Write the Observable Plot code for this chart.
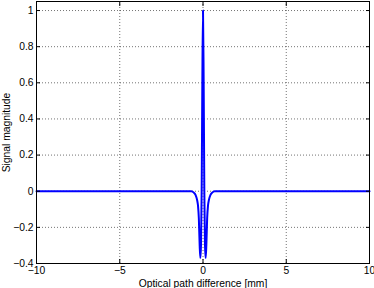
<!DOCTYPE html>
<html><head><meta charset="utf-8">
<script src="https://cdn.jsdelivr.net/npm/d3@7"></script>
<script src="https://cdn.jsdelivr.net/npm/@observablehq/plot@0.6"></script>
<style>body{margin:0;background:#fff}</style>
</head><body><div id="chart"></div>
<script>
const opd = [-10, -0.7, -0.55, -0.45, -0.35, -0.3, -0.25, -0.2, -0.16, -0.12, -0.08, -0.04, 0,
             0.04, 0.08, 0.12, 0.16, 0.2, 0.25, 0.3, 0.35, 0.45, 0.55, 0.7, 10];
const signal = [0, 0, -0.008, -0.02, -0.05, -0.08, -0.15, -0.3, -0.37, -0.3, 0.0, 0.6, 1,
                0.6, 0.0, -0.3, -0.37, -0.3, -0.15, -0.08, -0.05, -0.02, -0.008, 0, 0];
const xTicks = [-10, -5, 0, 5, 10];
const yTicks = [-0.4, -0.2, 0, 0.2, 0.4, 0.6, 0.8, 1];
const xGrid = [-5, 0, 5];
const yGrid = [-0.2, 0, 0.2, 0.4, 0.6, 0.8, 1];

const data = opd.map((x, i) => ({x, y: signal[i]}));
const fmt = d3.format("~g");

const chart = Plot.plot({
  width: 374, height: 288,
  marginLeft: 36, marginRight: 5, marginTop: 1, marginBottom: 25,
  style: {fontFamily: "'Liberation Sans', Arial, sans-serif", fontSize: "10.3px", background: "#fff", color: "#000"},
  x: {domain: [-10, 10]},
  y: {domain: [-0.4, 1.05]},
  marks: [
    Plot.gridX(xGrid, {stroke: "#000", strokeOpacity: 0.55, strokeDasharray: "1,2"}),
    Plot.gridY(yGrid, {stroke: "#000", strokeOpacity: 0.55, strokeDasharray: "1,2"}),
    Plot.line(data, {x: "x", y: "y", stroke: "#0000ff", strokeWidth: 2, curve: "monotone-x"}),
    Plot.frame({stroke: "#000", strokeWidth: 1}),
    Plot.axisX(xTicks, {anchor: "bottom", tickSize: -4, tickFormat: () => "", label: null}),
    Plot.axisX(xTicks, {anchor: "top", tickSize: -4, tickFormat: () => "", label: null}),
    Plot.axisY(yTicks, {anchor: "left", tickSize: -4, tickFormat: () => "", label: null}),
    Plot.axisY(yTicks, {anchor: "right", tickSize: -4, tickFormat: () => "", label: null}),
    Plot.axisX(xTicks, {anchor: "bottom", tickSize: 0, tickPadding: 3, tickFormat: fmt,
      label: "Optical path difference [mm]", labelAnchor: "center", labelArrow: "none", labelOffset: 23}),
    Plot.axisY(yTicks, {anchor: "left", tickSize: 0, tickPadding: 3, tickFormat: fmt,
      label: "Signal magnitude", labelAnchor: "center", labelArrow: "none", labelOffset: 34})
  ]
});
document.getElementById("chart").append(chart);
</script>
</body></html>
